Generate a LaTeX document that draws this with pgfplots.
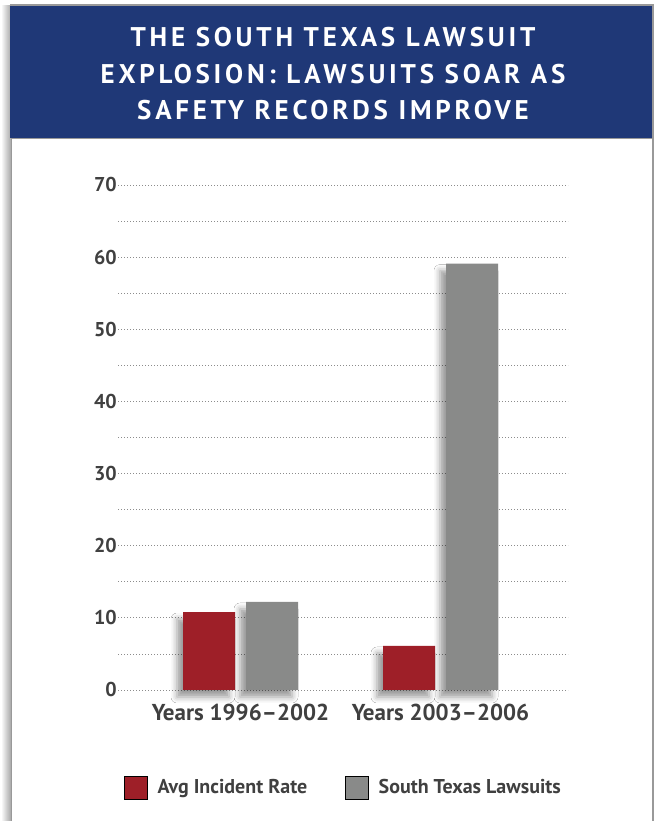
\documentclass[border=0pt]{standalone}
\usepackage{fontspec}
\setmainfont{PT Sans}
\newfontfamily\titlefont[LetterSpace=14]{PT Sans}
\usepackage{pgfplots}
\pgfplotsset{compat=1.18}
\usetikzlibrary{shadows.blur}
\definecolor{hdrblue}{RGB}{31,56,119}
\definecolor{barred}{RGB}{158,31,40}
\definecolor{bargray}{RGB}{137,138,137}
\definecolor{txt}{RGB}{64,64,64}
\begin{document}
\begin{tikzpicture}[x=1pt,y=1pt]
\path[use as bounding box] (0,0) rectangle (657,821);
% frame and header
\shade[left color=white, right color=black!35] (1,0) rectangle (11,815);
\fill[white] (11,0) rectangle (653,815);
\draw[black!40, line width=1.5pt] (11.5,-1) -- (11.5,682);
\draw[black!40, line width=1.5pt] (653,-1) -- (653,816) -- (10,816);
\fill[hdrblue] (10,683) rectangle (652,815);
\draw[black!40, line width=1.2pt] (11,682.5) -- (653,682.5);
\node[anchor=base, white, inner sep=0pt] at (333,774) {\titlefont\bfseries\fontsize{27}{32}\selectfont THE SOUTH TEXAS LAWSUIT};
\node[anchor=base, white, inner sep=0pt] at (333,737) {\titlefont\bfseries\fontsize{27}{32}\selectfont EXPLOSION: LAWSUITS SOAR AS};
\node[anchor=base, white, inner sep=0pt] at (333,701) {\titlefont\bfseries\fontsize{27}{32}\selectfont SAFETY RECORDS IMPROVE};

\begin{axis}[
    at={(118pt,131pt)}, anchor=south west,
    scale only axis,
    width=450pt, height=505pt,
    xmin=-0.6125, xmax=1.6375,
    ymin=0, ymax=70,
    axis line style={draw=none},
    clip=false,
    ytick={0,10,...,70},
    minor ytick={5,15,...,65},
    ymajorgrids=true, yminorgrids=true,
    major grid style={black!45, line width=0.8pt, dash pattern=on 0.8pt off 2.2pt},
    minor grid style={black!45, line width=0.8pt, dash pattern=on 0.8pt off 2.2pt},
    xtick={0,1},
    xticklabels={Years 1996--2002, Years 2003--2006},
    major tick length=0pt, minor tick length=0pt,
    /pgf/number format/assume math mode=true,
    yticklabel style={font=\bfseries\fontsize{20}{24}\selectfont, text=txt, anchor=east, inner sep=0pt, xshift=-1pt},
    xticklabel style={font=\bfseries\fontsize{23}{27}\selectfont, text=txt, anchor=north, inner sep=0pt, yshift=-14pt},
    legend style={at={(0.0133,-0.193)}, anchor=west, draw=none, fill=none, inner sep=0pt,
        font=\bfseries\fontsize{20}{24}\selectfont, text=txt},
    legend columns=2,
    legend cell align=left,
    legend image code/.code={\fill[#1] (0pt,-11.5pt) rectangle (23pt,11.5pt);},
    /tikz/every even column/.append style={column sep=36pt},
]
\addplot[ybar, bar width=0.26, bar shift=-0.1575, fill=barred, draw=none, forget plot,
    blur shadow={shadow xshift=-6pt, shadow yshift=-7pt, shadow blur radius=6pt, shadow opacity=40}]
    coordinates {(0,10.8) (1,6.1)};
\addplot[ybar, bar width=0.26, bar shift=0.1575, fill=bargray, draw=none, forget plot,
    blur shadow={shadow xshift=-6pt, shadow yshift=-7pt, shadow blur radius=6pt, shadow opacity=40}]
    coordinates {(0,12.2) (1,59.1)};
\addlegendimage{fill=barred}
\addlegendimage{fill=bargray}
\legend{\hspace{8pt}Avg Incident Rate, \hspace{8pt}South Texas Lawsuits}
\end{axis}
\end{tikzpicture}
\end{document}
